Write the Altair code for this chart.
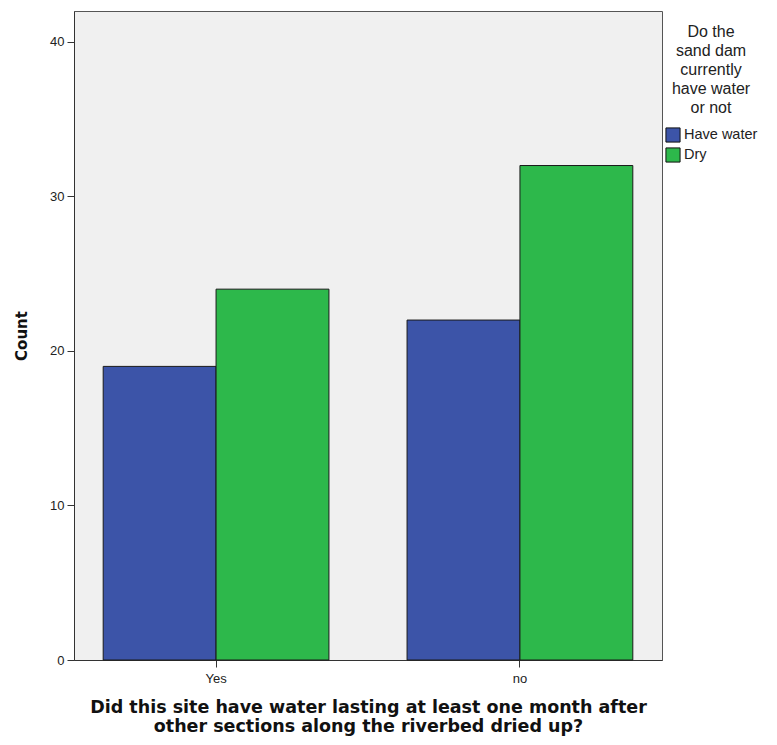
import altair as alt
import pandas as pd

categories = ["Yes", "no"]
status = ["Have water", "Dry"]
have_water = [19, 22]
dry = [24, 32]
colors = ["#3C54A8", "#2DB84B"]

rows = []
for i, c in enumerate(categories):
    rows.append({"site": c, "status": status[0], "count": have_water[i]})
    rows.append({"site": c, "status": status[1], "count": dry[i]})
df = pd.DataFrame(rows)

chart = alt.Chart(df).mark_bar(stroke="#1a1a1a", strokeWidth=1).encode(
    x=alt.X("site:N", sort=categories,
            scale=alt.Scale(paddingInner=0.257, paddingOuter=0.096),
            axis=alt.Axis(title=["Did this site have water lasting at least one month after",
                                 "other sections along the riverbed dried up?"],
                          labelAngle=0, labelFont="Liberation Sans", labelFontSize=13,
                          labelColor="#222", tickSize=7, tickColor="#333",
                          domainColor="#333", labelPadding=5,
                          titleFont="DejaVu Sans", titleFontSize=17.5, titleFontWeight="bold",
                          titleColor="#111", titlePadding=13, titleLineHeight=19)),
    xOffset=alt.XOffset("status:N", sort=status, scale=alt.Scale(paddingInner=0, paddingOuter=0)),
    y=alt.Y("count:Q", scale=alt.Scale(domain=[0, 42], nice=False),
            axis=alt.Axis(title="Count", values=[0, 10, 20, 30, 40], grid=False,
                          labelFont="Liberation Sans", labelFontSize=13, labelColor="#222",
                          tickSize=7, tickColor="#333", domainColor="#333", labelPadding=3,
                          titleFont="DejaVu Sans", titleFontSize=15, titleFontWeight="bold",
                          titleColor="#111", titlePadding=20)),
    color=alt.Color("status:N", sort=status,
                    scale=alt.Scale(domain=status, range=colors),
                    legend=alt.Legend(title=["Do the", "sand dam", "currently", "have water", "or not"],
                                      orient="none", legendX=591, legendY=13,
                                      titleFont="Liberation Sans", titleFontSize=16,
                                      titleFontWeight="normal", titleColor="#222",
                                      titleAlign="center", titleAnchor="middle",
                                      titleLineHeight=19, titlePadding=11,
                                      labelFont="Liberation Sans", labelFontSize=14.5,
                                      labelColor="#222", symbolType="square",
                                      symbolSize=200, symbolStrokeColor="#111",
                                      symbolStrokeWidth=1, symbolOpacity=1,
                                      rowPadding=0, labelOffset=3)),
).properties(
    width=588, height=649,
    background="white",
    autosize=alt.AutoSizeParams(type="none"),
    padding={"left": 66, "top": 3, "right": 100, "bottom": 77},
).configure_view(
    fill="#F0F0F0", stroke="#555", strokeWidth=1
)

chart.save("out.html", embed_options={"renderer": "svg", "actions": False})
